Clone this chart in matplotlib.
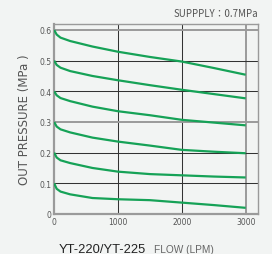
import matplotlib.pyplot as plt

# flow (LPM) and outlet pressure (MPa) for each set pressure
flow = [0, 40, 100, 250, 600, 1000, 1500, 2000, 2500, 3000]
p06 = [0.600, 0.585, 0.575, 0.564, 0.546, 0.529, 0.512, 0.497, 0.476, 0.454]
p05 = [0.500, 0.486, 0.477, 0.466, 0.450, 0.436, 0.420, 0.405, 0.391, 0.377]
p04 = [0.400, 0.387, 0.378, 0.368, 0.350, 0.335, 0.322, 0.307, 0.298, 0.289]
p03 = [0.300, 0.285, 0.276, 0.266, 0.249, 0.236, 0.223, 0.209, 0.203, 0.198]
p02 = [0.200, 0.184, 0.175, 0.166, 0.150, 0.138, 0.130, 0.126, 0.122, 0.119]
p01 = [0.100, 0.082, 0.073, 0.064, 0.052, 0.048, 0.045, 0.037, 0.029, 0.020]

xticks = [0, 1000, 2000, 3000]
yticks = [0, 0.1, 0.2, 0.3, 0.4, 0.5, 0.6]
ylabels = ['0', '0.1', '0.2', '0.3', '0.4', '0.5', '0.6']

bg = '#f2f4f3'
fig = plt.figure(figsize=(2.72, 2.55), dpi=100, facecolor=bg)
ax = fig.add_axes([0.199, 0.157, 0.75, 0.745], facecolor=bg)

# grid: thin dark lines, heavier grey at 3000 / 0.3 / 0.6
for x in [1000, 2000]:
    ax.axvline(x, color='#333333', lw=0.75, zorder=1)
ax.axvline(3000, color='#9a9a9a', lw=1.4, zorder=1)
for y in [0.1, 0.2, 0.4, 0.5]:
    ax.axhline(y, color='#333333', lw=0.75, zorder=1)
for y in [0.3, 0.6]:
    ax.axhline(y, color='#9a9a9a', lw=1.4, zorder=1)

for p in [p06, p05, p04, p03, p02, p01]:
    ax.plot(flow, p, color='#16a257', lw=1.6, zorder=3, solid_capstyle='butt')

ax.set_xlim(0, 3195)
ax.set_ylim(0, 0.6195)
ax.set_xticks(xticks)
ax.set_yticks(yticks)
ax.set_yticklabels(ylabels)
ax.tick_params(length=0, labelsize=5.5, labelcolor='#555555', pad=2)

for s in ['left', 'bottom']:
    ax.spines[s].set_color('#9a9a9a')
    ax.spines[s].set_linewidth(1.6)
for s in ['top', 'right']:
    ax.spines[s].set_color('#9a9a9a')
    ax.spines[s].set_linewidth(1.0)

ax.set_ylabel('OUT PRESSURE (MPa )', fontsize=8.5, color='#555555', labelpad=6)

fig.text(0.95, 0.945, 'SUPPPLY：0.7MPa', ha='right', va='center', fontsize=7,
         color='#555555', family=['Noto Sans CJK JP', 'DejaVu Sans'])
fig.text(0.217, 0.006, 'YT-220/YT-225', ha='left', va='baseline', fontsize=9.3,
         color='#222222', family='Liberation Sans')
fig.text(0.568, 0.006, 'FLOW (LPM)', ha='left', va='baseline', fontsize=7.3,
         color='#666666', family='Liberation Sans')

fig.savefig('out.png', dpi=100, facecolor=bg)
